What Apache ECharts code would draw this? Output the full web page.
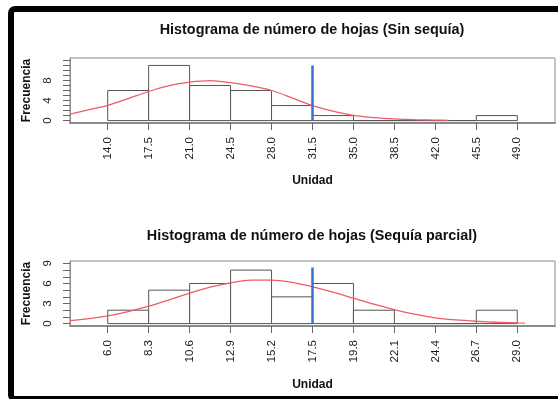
<!DOCTYPE html>
<html>
<head>
<meta charset="utf-8">
<script src="https://cdn.jsdelivr.net/npm/echarts@6/dist/echarts.min.js"></script>
<style>
  html, body { margin: 0; padding: 0; background: #fff; }
  #chart { width: 558px; height: 399px; }
</style>
</head>
<body>
<div id="chart"></div>
<script>
// Histogram 1: number of leaves, no drought
const topTitle = 'Histograma de número de hojas (Sin sequía)';
const topBreaks = [14.0, 17.5, 21.0, 24.5, 28.0, 31.5, 35.0, 38.5, 42.0, 45.5, 49.0];
const topCounts = [6, 11, 7, 6, 3, 1, 0, 0, 0, 1];
const topYTicks = [0, 1, 2, 3, 4, 5, 6, 7, 8, 9, 10, 11, 12];
const topYLabels = [0, 4, 8];
const topCurveX = [10.78, 12.25, 14.0, 15.75, 17.5, 19.25, 21.0, 22.75, 24.5, 26.25, 28.0, 29.75, 31.5, 33.25, 35.0, 36.75, 38.5, 40.25, 42.0, 43.1];
const topCurveY = [1.3, 2.1, 3.05, 4.4, 5.8, 6.95, 7.65, 7.95, 7.55, 6.9, 6.0, 4.55, 3.0, 1.9, 1.05, 0.6, 0.33, 0.18, 0.1, 0.06];
const topMarkX = 31.5;
const topMarkTop = 11;

// Histogram 2: number of leaves, partial drought
const bottomTitle = 'Histograma de número de hojas (Sequía parcial)';
const bottomBreaks = [6.0, 8.3, 10.6, 12.9, 15.2, 17.5, 19.8, 22.1, 24.4, 26.7, 29.0];
const bottomCounts = [2, 5, 6, 8, 4, 6, 2, 0, 0, 2];
const bottomYTicks = [0, 1, 2, 3, 4, 5, 6, 7, 8, 9];
const bottomYLabels = [0, 3, 6, 9];
const bottomCurveX = [3.88, 4.85, 6.0, 7.15, 8.3, 9.45, 10.6, 11.75, 12.9, 14.05, 15.2, 16.35, 17.5, 18.65, 19.8, 20.95, 22.1, 23.25, 24.4, 25.55, 26.7, 27.85, 29.0, 29.43];
const bottomCurveY = [0.45, 0.7, 1.15, 1.8, 2.6, 3.55, 4.55, 5.45, 6.1, 6.5, 6.5, 6.15, 5.5, 4.7, 3.8, 2.9, 2.1, 1.4, 0.85, 0.55, 0.35, 0.2, 0.1, 0.08];
const bottomMarkX = 17.5;
const bottomMarkTop = 8.4;

const xLabelName = 'Unidad';
const yLabelName = 'Frecuencia';

const FONT = '"Liberation Sans", Arial, Helvetica, sans-serif';
const BOX = '#8a8a8a';
const BAR_EDGE = '#555555';
const CURVE = '#f05a6a';
const MARK = '#3a6fd4';

function binRows(breaks, counts) {
  return counts.map((c, i) => [breaks[i], breaks[i + 1], c]);
}

function renderBin(params, api) {
  const p0 = api.coord([api.value(0), 0]);
  const p1 = api.coord([api.value(1), api.value(2)]);
  return {
    type: 'rect',
    shape: { x: p0[0], y: p1[1], width: p1[0] - p0[0], height: p0[1] - p1[1] },
    style: { fill: '#ffffff', stroke: BAR_EDGE, lineWidth: 1 }
  };
}

function makeXAxis(gridIndex, min, max, ticks, gap) {
  return {
    type: 'value', gridIndex, min, max,
    name: xLabelName, nameLocation: 'middle', nameGap: gap,
    nameTextStyle: { fontFamily: FONT, fontWeight: 'bold', fontSize: 12, color: '#111' },
    axisLine: { show: true, onZero: false, lineStyle: { color: BOX, width: 2 } },
    axisTick: { show: true, length: 7, customValues: ticks, lineStyle: { color: '#666' } },
    axisLabel: {
      customValues: ticks, rotate: 90, margin: 14,
      fontFamily: FONT, fontSize: 11.5, color: '#1a1a1a',
      formatter: v => Number(v).toFixed(1)
    },
    splitLine: { show: false }
  };
}

function makeYAxis(gridIndex, min, max, ticks, labels) {
  return {
    type: 'value', gridIndex, min, max,
    name: yLabelName, nameLocation: 'middle', nameGap: 37,
    nameTextStyle: { fontFamily: FONT, fontWeight: 'bold', fontSize: 12, color: '#111' },
    axisLine: { show: true, lineStyle: { color: BOX } },
    axisTick: { show: true, length: 7, customValues: ticks, lineStyle: { color: '#666' } },
    axisLabel: {
      customValues: labels, rotate: 90, margin: 16,
      fontFamily: FONT, fontSize: 11.5, color: '#1a1a1a'
    },
    splitLine: { show: false }
  };
}

function zip(xs, ys) { return xs.map((x, i) => [x, ys[i]]); }

const option = {
  backgroundColor: '#ffffff',
  animation: false,
  title: [
    { text: topTitle, left: 312, top: 23, textAlign: 'center', padding: 0,
      textStyle: { fontFamily: FONT, fontWeight: 'bold', fontSize: 14.4, color: '#111' } },
    { text: bottomTitle, left: 312, top: 229, textAlign: 'center', padding: 0,
      textStyle: { fontFamily: FONT, fontWeight: 'bold', fontSize: 14.4, color: '#111' } }
  ],
  grid: [
    { left: 70, top: 58, width: 485, height: 65, show: true, borderColor: BOX, borderWidth: 1, backgroundColor: 'transparent' },
    { left: 70, top: 261, width: 485, height: 65, show: true, borderColor: BOX, borderWidth: 1, backgroundColor: 'transparent' }
  ],
  xAxis: [
    makeXAxis(0, 10.78, 52.22, topBreaks, 52),
    makeXAxis(1, 3.88, 31.12, bottomBreaks, 53)
  ],
  yAxis: [
    makeYAxis(0, -0.48, 12.48, topYTicks, topYLabels),
    makeYAxis(1, -0.36, 9.36, bottomYTicks, bottomYLabels)
  ],
  series: [
    { type: 'custom', xAxisIndex: 0, yAxisIndex: 0, renderItem: renderBin,
      encode: { x: [0, 1], y: 2 }, data: binRows(topBreaks, topCounts), z: 1 },
    { type: 'line', xAxisIndex: 0, yAxisIndex: 0, smooth: 0.3, showSymbol: false,
      lineStyle: { color: CURVE, width: 1.3 }, data: zip(topCurveX, topCurveY), z: 3 },
    { type: 'line', xAxisIndex: 0, yAxisIndex: 0, showSymbol: false,
      lineStyle: { color: MARK, width: 2.5 }, data: [[topMarkX, 0], [topMarkX, topMarkTop]], z: 4 },

    { type: 'custom', xAxisIndex: 1, yAxisIndex: 1, renderItem: renderBin,
      encode: { x: [0, 1], y: 2 }, data: binRows(bottomBreaks, bottomCounts), z: 1 },
    { type: 'line', xAxisIndex: 1, yAxisIndex: 1, smooth: 0.3, showSymbol: false,
      lineStyle: { color: CURVE, width: 1.3 }, data: zip(bottomCurveX, bottomCurveY), z: 3 },
    { type: 'line', xAxisIndex: 1, yAxisIndex: 1, showSymbol: false,
      lineStyle: { color: MARK, width: 2.5 }, data: [[bottomMarkX, 0], [bottomMarkX, bottomMarkTop]], z: 4 }
  ],
  graphic: [
    // black frame around the figure
    { type: 'rect', z: 100, silent: true,
      shape: { x: 11, y: 9, width: 560, height: 390, r: 4 },
      style: { fill: 'none', stroke: '#000000', lineWidth: 6 } }
  ]
};

const chart = echarts.init(document.getElementById('chart'), null, { renderer: 'canvas' });
chart.setOption(option);
</script>
</body>
</html>
